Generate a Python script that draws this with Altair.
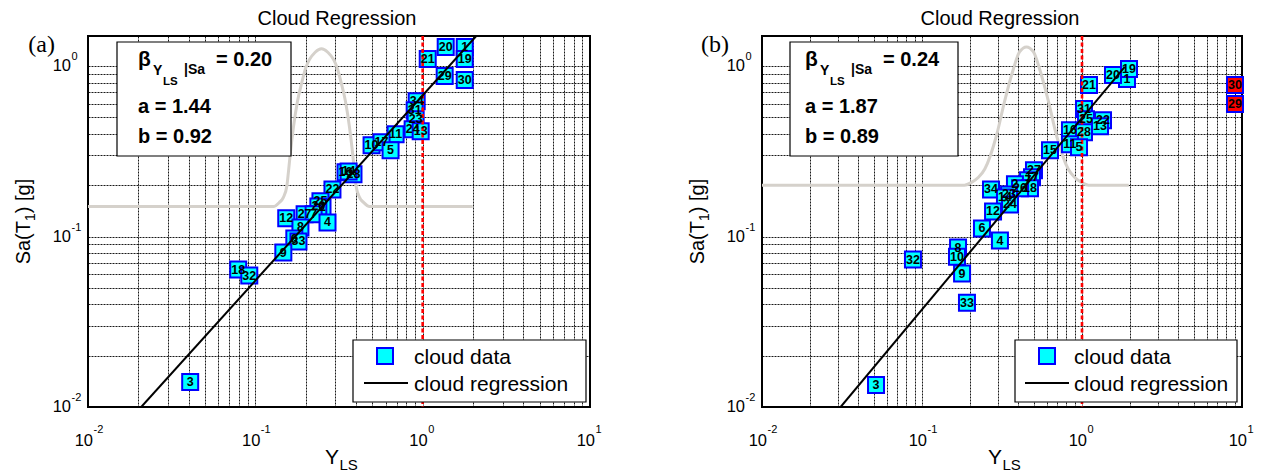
import altair as alt
import pandas as pd

SANS = "Liberation Sans"
SERIF = "Liberation Serif"

# ---------------- panel (a) : cloud data ----------------
a_label = ["1", "20", "21", "19", "29", "30", "34", "31", "23", "24", "13", "11",
           "10", "17", "5", "16", "28", "14", "22", "25", "2", "26", "27", "7",
           "12", "4", "8", "6", "33", "9", "18", "32", "3"]
a_y_ls = [1.784, 1.373, 1.072, 1.784, 1.354, 1.784, 0.921, 0.896, 0.908, 0.871, 0.973, 0.689,
          0.495, 0.568, 0.643, 0.346, 0.386, 0.361, 0.289, 0.245, 0.252, 0.238, 0.197, 0.223,
          0.153, 0.270, 0.186, 0.171, 0.181, 0.147, 0.079, 0.092, 0.0408]
a_sa = [1.294, 1.294, 1.099, 1.099, 0.873, 0.827, 0.622, 0.551, 0.488, 0.426, 0.415, 0.398,
        0.343, 0.357, 0.321, 0.238, 0.232, 0.241, 0.189, 0.161, 0.148, 0.150, 0.135, 0.135,
        0.128, 0.121, 0.113, 0.0973, 0.0935, 0.0805, 0.0640, 0.0590, 0.0140]
a_collapse = [False] * len(a_label)

# probability curve drawn in panel (a)
a_curve_y_ls = [0.01, 0.1282, 0.1392, 0.1471, 0.1544, 0.1576, 0.1621, 0.1689, 0.1785, 0.1898,
                0.1993, 0.2287, 0.2484, 0.2699, 0.3097, 0.3251, 0.3458, 0.3654, 0.3808,
                0.3915, 0.3997, 0.4195, 0.4433, 0.4816, 1.99]
a_curve_sa = [0.15, 0.15, 0.1585, 0.1696, 0.1987, 0.2379, 0.312, 0.4377, 0.619, 0.805,
              0.964, 1.209, 1.264, 1.209, 0.964, 0.805, 0.619, 0.4377, 0.312,
              0.2379, 0.1987, 0.1696, 0.1585, 0.15, 0.15]

# cloud regression line (a = 1.44, b = 0.92)
a_reg_y_ls = [0.0208, 2.09]
a_reg_sa = [0.01, 1.5]
a_stats = ["0.20", "1.44", "0.92"]

# ---------------- panel (b) : cloud data ----------------
b_label = ["1", "19", "20", "21", "30", "29", "31", "25", "22", "13", "16", "28",
           "11", "5", "15", "27", "17", "7", "2", "18", "26", "34", "23", "14",
           "24", "12", "6", "4", "8", "10", "32", "9", "33", "3"]
b_y_ls = [1.911, 1.967, 1.562, 1.106, 9.04, 9.04, 1.029, 1.059, 1.353, 1.296, 0.841, 1.029,
          0.841, 0.958, 0.631, 0.501, 0.487, 0.460, 0.381, 0.473, 0.410, 0.270, 0.350, 0.330,
          0.355, 0.278, 0.237, 0.307, 0.168, 0.1655, 0.0878, 0.178, 0.191, 0.0516]
b_sa = [0.8387, 0.960, 0.885, 0.773, 0.773, 0.598, 0.5587, 0.488, 0.481, 0.444, 0.420, 0.409,
        0.348, 0.334, 0.321, 0.2445, 0.2224, 0.2136, 0.2023, 0.1916, 0.1916, 0.189, 0.1766, 0.1696,
        0.1543, 0.1403, 0.1115, 0.0947, 0.0861, 0.0762, 0.0732, 0.0606, 0.0409, 0.01347]
b_collapse = [False, False, False, False, True, True] + [False] * 28

b_curve_y_ls = [0.01, 0.1843, 0.2039, 0.2255, 0.2469, 0.2921, 0.3279, 0.3730, 0.4069, 0.4498,
                0.4975, 0.5426, 0.6175, 0.6929, 0.8201, 0.8977, 0.9928, 1.098, 1.96]
b_curve_sa = [0.2, 0.2, 0.2078, 0.2224, 0.2488, 0.3913, 0.619, 0.964, 1.209, 1.294,
              1.209, 0.964, 0.619, 0.3913, 0.2488, 0.2224, 0.2078, 0.2, 0.2]

# cloud regression line (a = 1.87, b = 0.89)
b_reg_y_ls = [0.031, 1.85]
b_reg_sa = [0.01, 0.99]
b_stats = ["0.24", "1.87", "0.89"]

# ---------------- shared ----------------
limit_state = [1.0]
x_grid = [0.01, 0.02, 0.03, 0.04, 0.05, 0.06, 0.07, 0.08, 0.09,
          0.1, 0.2, 0.3, 0.4, 0.5, 0.6, 0.7, 0.8, 0.9,
          1, 2, 3, 4, 5, 6, 7, 8, 9, 10]
y_grid = [0.01, 0.02, 0.03, 0.04, 0.05, 0.06, 0.07, 0.08, 0.09,
          0.1, 0.2, 0.3, 0.4, 0.5, 0.6, 0.7, 0.8, 0.9, 1]
x_major = [0.01, 0.1, 1, 10]
x_major_exp = ["-2", "-1", "0", "1"]
y_major = [0.01, 0.1, 1]
y_major_exp = ["-2", "-1", "0"]

H = 371
ONE = pd.DataFrame({"k": [0]})

xscale = alt.Scale(type="log", domain=[0.01, 10], nice=False)
yscale = alt.Scale(type="log", domain=[0.01, 1.5], nice=False)
grid_kw = dict(grid=True, labels=False, ticks=False, domain=False, title=None,
               gridColor="#000000", gridDash=[2, 1], gridOpacity=0.9, gridWidth=1)
xaxis = alt.Axis(values=x_grid, **grid_kw)
yaxis = alt.Axis(values=y_grid, **grid_kw)


def X(f):
    return alt.X(f, type="quantitative", scale=xscale, axis=xaxis)


def Y(f):
    return alt.Y(f, type="quantitative", scale=yscale, axis=yaxis)


def txt(s, x, y, size, bold=False, align="left", baseline="alphabetic", font=SANS, angle=0):
    kw = dict(text=s, fontSize=size, fontWeight="bold" if bold else "normal",
              align=align, baseline=baseline, font=font, color="black")
    if angle:
        kw["angle"] = angle
    return alt.Chart(ONE).mark_text(**kw).encode(x=alt.value(x), y=alt.value(y))


def panel(tag, W, labels, yls, sa, collapse, cyls, csa, ryls, rsa, stats,
          box_x, beta_x, leg_x, leg_x2, mark_x, line_x, line_x2, text_x, pin=False):
    pts = pd.DataFrame({"Y": yls, "Sa": sa, "label": labels, "collapse": collapse})
    curve = pd.DataFrame({"Y": cyls, "Sa": csa})
    reg = pd.DataFrame({"Y": ryls, "Sa": rsa})
    lim = pd.DataFrame({"Y": limit_state})
    yt = pd.DataFrame({"v": y_major, "e": y_major_exp})
    xt = pd.DataFrame({"v": x_major, "e": x_major_exp})

    layers = []
    layers.append(alt.Chart(curve).mark_line(color="#d5d1cb", strokeWidth=3, interpolate="monotone",
                                             clip=True).encode(x=X("Y"), y=Y("Sa")))
    layers.append(alt.Chart(pts).mark_square(size=256, filled=True, stroke="#0000ff", strokeWidth=2,
                                             opacity=1).encode(
        x=X("Y"), y=Y("Sa"),
        fill=alt.condition("datum.collapse", alt.value("#ff0000"), alt.value("#00ffff"))))
    layers.append(alt.Chart(lim).mark_rule(color="#ff0000", strokeWidth=2.6, strokeDash=[4, 2.5]).encode(x=X("Y")))
    layers.append(alt.Chart(reg).mark_line(color="black", strokeWidth=2, clip=True).encode(x=X("Y"), y=Y("Sa")))
    layers.append(alt.Chart(pts).mark_text(font=SANS, fontSize=12.5, fontWeight="bold", color="black",
                                           align="center", baseline="middle").encode(
        x=X("Y"), y=Y("Sa"), text="label:N"))
    # tick labels
    layers.append(alt.Chart(yt).mark_text(font=SANS, fontSize=16.5, align="right", baseline="middle").encode(
        y=Y("v"), x=alt.value(-17), text=alt.value("10")))
    layers.append(alt.Chart(yt).mark_text(font=SANS, fontSize=11, align="left", baseline="middle", dy=-9).encode(
        y=Y("v"), x=alt.value(-16.5), text="e:N"))
    layers.append(alt.Chart(xt).mark_text(font=SANS, fontSize=16.5, align="right", baseline="alphabetic", dx=5).encode(
        x=X("v"), y=alt.value(H + 39), text=alt.value("10")))
    layers.append(alt.Chart(xt).mark_text(font=SANS, fontSize=11, align="left", baseline="alphabetic", dx=5.5).encode(
        x=X("v"), y=alt.value(H + 26), text="e:N"))
    # title, axis titles, panel tag
    layers.append(txt("Cloud Regression", W / 2 - 2, -11, 20, align="center"))
    layers.append(txt("Y", W / 2, H + 57, 21, align="right"))
    layers.append(txt("LS", W / 2 + 0.5, H + 63, 15))
    layers.append(txt("Sa(T", -58, H / 2 - 0.5, 20, align="right", angle=270))
    layers.append(txt("1", -53, H / 2 - 0.5, 14, align="left", angle=270))
    layers.append(txt(") [g]", -58, H / 2 - 8.3, 20, align="left", angle=270))
    layers.append(txt(tag, -33, 16, 24, align="right", font=SERIF))
    # statistics box
    layers.append(alt.Chart(ONE).mark_rect(fill="white", stroke="black", strokeWidth=1.2).encode(
        x=alt.value(box_x[0]), x2=alt.value(box_x[1]), y=alt.value(6), y2=alt.value(120)))
    layers.append(txt("\u03b2", beta_x, 30, 21, bold=True))
    layers.append(txt("Y", beta_x + 15, 39, 14, bold=True))
    layers.append(txt("LS", beta_x + 25, 49, 11.5, bold=True))
    layers.append(txt("|Sa", beta_x + 46, 38, 14, bold=True))
    layers.append(txt("= " + stats[0], beta_x + 78, 30, 20, bold=True))
    layers.append(txt("a = " + stats[1], beta_x, 77, 20, bold=True))
    layers.append(txt("b = " + stats[2], beta_x, 107, 20, bold=True))
    # legend
    layers.append(alt.Chart(ONE).mark_rect(fill="white", stroke="black", strokeWidth=1.2).encode(
        x=alt.value(leg_x), x2=alt.value(leg_x2), y=alt.value(304), y2=alt.value(366)))
    layers.append(alt.Chart(ONE).mark_square(size=256, filled=True, fill="#00ffff", stroke="#0000ff",
                                             strokeWidth=2, opacity=1).encode(
        x=alt.value(mark_x), y=alt.value(320)))
    layers.append(alt.Chart(ONE).mark_rule(color="black", strokeWidth=2).encode(
        x=alt.value(line_x), x2=alt.value(line_x2), y=alt.value(347)))
    layers.append(txt("cloud data", text_x, 327.5, 21))
    layers.append(txt("cloud regression", text_x, 354.5, 21))
    if pin:
        layers.append(alt.Chart(ONE).mark_rule(color="white", strokeWidth=1).encode(
            x=alt.value(-78), x2=alt.value(-77), y=alt.value(-26)))
    return alt.layer(*layers).properties(width=W, height=H)


left = panel("(a)", 502, a_label, a_y_ls, a_sa, a_collapse, a_curve_y_ls, a_curve_sa,
             a_reg_y_ls, a_reg_sa, a_stats,
             box_x=(29, 203), beta_x=50, leg_x=265, leg_x2=498, mark_x=297,
             line_x=276, line_x2=320, text_x=326, pin=True)
right = panel("(b)", 480, b_label, b_y_ls, b_sa, b_collapse, b_curve_y_ls, b_curve_sa,
              b_reg_y_ls, b_reg_sa, b_stats,
              box_x=(28, 196), beta_x=43, leg_x=253, leg_x2=475, mark_x=285,
              line_x=263, line_x2=307, text_x=312)

chart = alt.hconcat(left, right, spacing=172, bounds="flush").properties(
    padding={"left": 0, "top": 0, "right": 0, "bottom": 0},
    background="white",
).configure_view(stroke="black", strokeWidth=2)

chart.save("out.html", embed_options={"renderer": "svg", "actions": False})
